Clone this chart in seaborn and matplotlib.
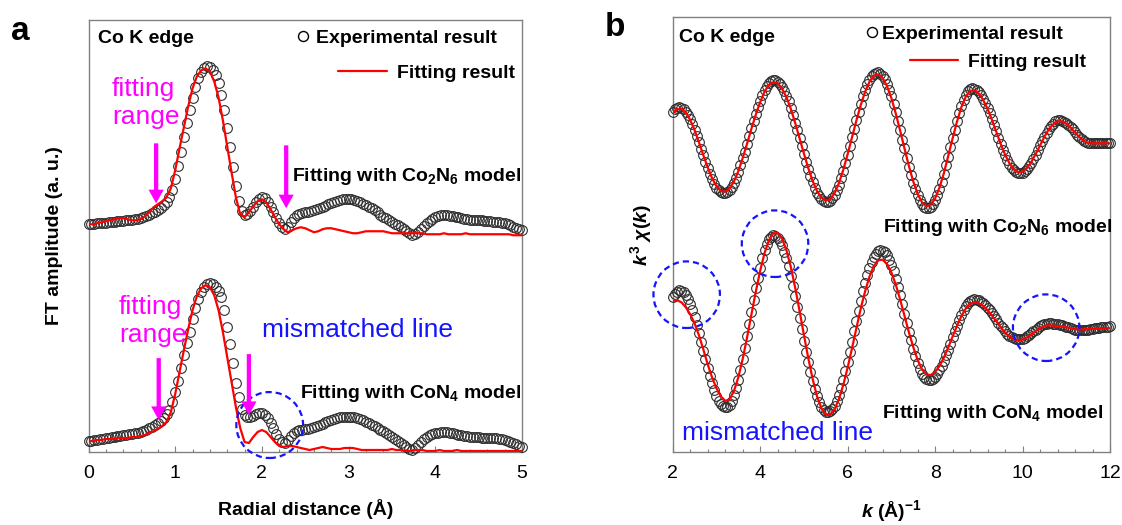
import numpy as np
import matplotlib
matplotlib.use("Agg")
import matplotlib.pyplot as plt
from matplotlib.lines import Line2D
from matplotlib.legend import Legend
from matplotlib.patches import Ellipse
from matplotlib.ticker import MultipleLocator
import seaborn as sns

# ---------------- data ----------------
# (a) Fourier-transformed EXAFS, R space
r_exp = np.arange(151) / 30.0
r_fit = np.arange(101) / 20.0

ft_exp_co2n6 = np.array([
    0.08, 0.08, 0.085, 0.09, 0.09, 0.09, 0.09, 0.10, 0.10, 0.10,
    0.11, 0.11, 0.11, 0.12, 0.12, 0.12, 0.13, 0.13, 0.14, 0.15,
    0.16, 0.17, 0.19, 0.20, 0.22, 0.24, 0.27, 0.30, 0.35, 0.42,
    0.53, 0.66, 0.80, 0.95, 1.09, 1.22, 1.34, 1.45, 1.54, 1.60,
    1.64, 1.66, 1.65, 1.62, 1.57, 1.49, 1.37, 1.22, 1.04, 0.85,
    0.65, 0.46, 0.31, 0.21, 0.17, 0.18, 0.21, 0.25, 0.30, 0.33,
    0.35, 0.34, 0.30, 0.25, 0.20, 0.14, 0.09, 0.05, 0.03, 0.05,
    0.10, 0.14, 0.17, 0.18, 0.19, 0.20, 0.20, 0.21, 0.22, 0.23,
    0.24, 0.25, 0.26, 0.28, 0.29, 0.30, 0.31, 0.32, 0.33, 0.33,
    0.33, 0.33, 0.32, 0.31, 0.30, 0.28, 0.27, 0.25, 0.24, 0.22,
    0.20, 0.17, 0.15, 0.14, 0.12, 0.10, 0.08, 0.07, 0.05, 0.03,
    0.01, -0.01, -0.03, -0.02, 0.00, 0.03, 0.06, 0.09, 0.11, 0.13,
    0.15, 0.16, 0.17, 0.17, 0.17, 0.16, 0.16, 0.15, 0.15, 0.14,
    0.13, 0.13, 0.12, 0.12, 0.12, 0.12, 0.12, 0.11, 0.11, 0.11,
    0.10, 0.10, 0.10, 0.09, 0.09, 0.08, 0.07, 0.05, 0.04, 0.03, 0.02,
])
ft_fit_co2n6 = np.array([
    0.08, 0.08, 0.09, 0.10, 0.11, 0.12, 0.13, 0.14, 0.14, 0.13,
    0.12, 0.12, 0.13, 0.16, 0.20, 0.25, 0.28, 0.31, 0.35, 0.44,
    0.62, 0.84, 1.05, 1.26, 1.44, 1.56, 1.62, 1.64, 1.61, 1.51,
    1.35, 1.12, 0.86, 0.60, 0.35, 0.18, 0.15, 0.20, 0.26, 0.31,
    0.33, 0.30, 0.23, 0.15, 0.08, 0.03, 0.00, 0.02, 0.04, 0.05,
    0.04, 0.02, 0.00, 0.01, 0.03, 0.04, 0.04, 0.03, 0.02, 0.01,
    0.00, -0.01, -0.01, 0.00, 0.01, 0.01, 0.01, 0.01, 0.01, 0.00,
    -0.01, -0.01, -0.01, -0.01, -0.01, -0.01, -0.01, -0.01, -0.02, -0.02,
    -0.02, -0.02, -0.01, -0.02, -0.02, -0.02, -0.02, -0.01, -0.02, -0.02,
    -0.02, -0.02, -0.02, -0.02, -0.02, -0.02, -0.02, -0.02, -0.03, -0.03, -0.03,
])
ft_exp_con4 = np.array([
    0.11, 0.115, 0.12, 0.12, 0.13, 0.13, 0.14, 0.14, 0.15, 0.15,
    0.16, 0.16, 0.17, 0.17, 0.18, 0.18, 0.19, 0.19, 0.20, 0.21,
    0.22, 0.24, 0.25, 0.27, 0.29, 0.31, 0.34, 0.38, 0.42, 0.50,
    0.60, 0.71, 0.84, 0.97, 1.09, 1.20, 1.33, 1.44, 1.53, 1.60,
    1.65, 1.68, 1.69, 1.68, 1.65, 1.61, 1.55, 1.42, 1.25, 1.08,
    0.89, 0.69, 0.55, 0.43, 0.37, 0.35, 0.35, 0.36, 0.38, 0.39,
    0.39, 0.37, 0.34, 0.29, 0.24, 0.18, 0.13, 0.10, 0.09, 0.12,
    0.16, 0.19, 0.21, 0.22, 0.22, 0.23, 0.23, 0.24, 0.25, 0.26,
    0.27, 0.28, 0.30, 0.31, 0.32, 0.33, 0.34, 0.35, 0.35, 0.35,
    0.35, 0.35, 0.35, 0.34, 0.33, 0.32, 0.30, 0.29, 0.27, 0.26,
    0.24, 0.22, 0.21, 0.19, 0.17, 0.15, 0.13, 0.11, 0.09, 0.07,
    0.05, 0.03, 0.02, 0.04, 0.07, 0.10, 0.13, 0.15, 0.17, 0.18,
    0.19, 0.19, 0.20, 0.20, 0.20, 0.19, 0.19, 0.18, 0.17, 0.17,
    0.16, 0.16, 0.15, 0.15, 0.15, 0.15, 0.14, 0.14, 0.14, 0.14,
    0.14, 0.14, 0.13, 0.13, 0.12, 0.11, 0.10, 0.09, 0.08, 0.06, 0.05,
])
ft_fit_con4 = np.array([
    0.11, 0.11, 0.12, 0.12, 0.13, 0.13, 0.13, 0.14, 0.14, 0.14,
    0.15, 0.15, 0.16, 0.17, 0.19, 0.21, 0.23, 0.26, 0.30, 0.40,
    0.58, 0.80, 1.02, 1.23, 1.42, 1.56, 1.64, 1.67, 1.65, 1.57,
    1.42, 1.20, 0.95, 0.70, 0.45, 0.24, 0.10, 0.09, 0.15, 0.20,
    0.22, 0.20, 0.15, 0.10, 0.06, 0.05, 0.06, 0.06, 0.05, 0.04,
    0.03, 0.02, 0.03, 0.04, 0.05, 0.04, 0.03, 0.03, 0.03, 0.04,
    0.04, 0.04, 0.03, 0.02, 0.02, 0.02, 0.02, 0.02, 0.02, 0.02,
    0.03, 0.02, 0.02, 0.01, 0.01, 0.02, 0.02, 0.02, 0.01, 0.01,
    0.01, 0.02, 0.01, 0.01, 0.01, 0.02, 0.01, 0.01, 0.01, 0.01,
    0.01, 0.01, 0.01, 0.01, 0.01, 0.01, 0.01, 0.01, 0.01, 0.01, 0.01,
])

# (b) k^3-weighted EXAFS oscillations, k space
k_exp = np.round(2 + np.arange(201) * 0.05, 3)
k_fit = np.round(2 + np.arange(101) * 0.1, 3)

chi_exp_co2n6 = np.array([
    1.55, 1.72, 1.79, 1.80, 1.77, 1.70, 1.58, 1.41, 1.20, 0.95,
    0.67, 0.37, 0.05, -0.28, -0.61, -0.94, -1.24, -1.53, -1.80, -2.02,
    -2.21, -2.35, -2.45, -2.50, -2.49, -2.43, -2.32, -2.16, -1.96, -1.72,
    -1.44, -1.11, -0.76, -0.41, -0.02, 0.36, 0.75, 1.12, 1.47, 1.81,
    2.12, 2.42, 2.66, 2.85, 3.00, 3.10, 3.15, 3.14, 3.08, 2.98,
    2.82, 2.61, 2.37, 2.09, 1.77, 1.42, 1.04, 0.65, 0.26, -0.14,
    -0.53, -0.92, -1.28, -1.63, -1.94, -2.22, -2.46, -2.65, -2.80, -2.90,
    -2.95, -2.94, -2.88, -2.75, -2.57, -2.34, -2.06, -1.74, -1.37, -0.97,
    -0.57, -0.14, 0.30, 0.74, 1.17, 1.57, 1.97, 2.34, 2.66, 2.94,
    3.17, 3.35, 3.48, 3.54, 3.55, 3.49, 3.37, 3.19, 2.95, 2.67,
    2.34, 1.96, 1.55, 1.11, 0.66, 0.19, -0.26, -0.73, -1.17, -1.58,
    -1.96, -2.30, -2.60, -2.85, -3.04, -3.17, -3.24, -3.24, -3.18, -3.05,
    -2.85, -2.60, -2.29, -1.93, -1.55, -1.11, -0.66, -0.20, 0.25, 0.68,
    1.11, 1.50, 1.86, 2.16, 2.40, 2.59, 2.70, 2.75, 2.73, 2.68,
    2.57, 2.43, 2.24, 2.03, 1.77, 1.50, 1.22, 0.91, 0.59, 0.29,
    -0.03, -0.32, -0.58, -0.81, -1.03, -1.21, -1.35, -1.44, -1.49, -1.50,
    -1.46, -1.39, -1.28, -1.14, -0.97, -0.78, -0.56, -0.33, -0.11, 0.12,
    0.34, 0.54, 0.72, 0.87, 0.98, 1.09, 1.14, 1.15, 1.13, 1.08,
    1.01, 0.92, 0.81, 0.69, 0.56, 0.44, 0.32, 0.21, 0.12, 0.06,
    0.01, 0.00, 0.00, -0.01, -0.01, 0.00, 0.00, 0.00, 0.00, 0.00,
    0.00,
])
chi_fit_co2n6 = np.array([
    1.50, 1.72, 1.72, 1.54, 1.17, 0.66, 0.05, -0.59, -1.20, -1.74,
    -2.14, -2.38, -2.42, -2.26, -1.91, -1.40, -0.74, -0.02, 0.73, 1.43,
    2.06, 2.58, 2.92, 3.06, 3.00, 2.74, 2.31, 1.73, 1.02, 0.26,
    -0.51, -1.24, -1.88, -2.39, -2.72, -2.86, -2.80, -2.50, -2.00, -1.33,
    -0.55, 0.29, 1.14, 1.91, 2.58, 3.08, 3.38, 3.45, 3.27, 2.86,
    2.27, 1.50, 0.64, -0.25, -1.13, -1.90, -2.52, -2.95, -3.14, -3.08,
    -2.76, -2.22, -1.50, -0.64, 0.24, 1.08, 1.80, 2.33, 2.62, 2.65,
    2.49, 2.17, 1.72, 1.18, 0.57, -0.03, -0.56, -1.00, -1.31, -1.45,
    -1.42, -1.24, -0.94, -0.54, -0.11, 0.33, 0.70, 0.95, 1.10, 1.10,
    0.98, 0.79, 0.54, 0.31, 0.12, 0.01, 0.00, 0.00, 0.00, 0.00,
    0.00,
])
chi_exp_con4 = np.array([
    1.50, 1.68, 1.79, 1.85, 1.84, 1.77, 1.63, 1.43, 1.17, 0.87,
    0.52, 0.13, -0.29, -0.73, -1.17, -1.60, -2.03, -2.43, -2.80, -3.14,
    -3.44, -3.66, -3.84, -3.95, -4.00, -3.97, -3.86, -3.66, -3.38, -3.03,
    -2.61, -2.14, -1.60, -1.03, -0.44, 0.18, 0.79, 1.39, 1.96, 2.49,
    2.98, 3.46, 3.85, 4.16, 4.39, 4.54, 4.60, 4.58, 4.48, 4.32,
    4.09, 3.79, 3.45, 3.05, 2.59, 2.09, 1.57, 1.02, 0.45, -0.10,
    -0.67, -1.22, -1.75, -2.24, -2.69, -3.09, -3.44, -3.74, -3.97, -4.13,
    -4.23, -4.25, -4.20, -4.09, -3.91, -3.67, -3.37, -3.03, -2.63, -2.20,
    -1.72, -1.23, -0.72, -0.20, 0.32, 0.83, 1.33, 1.80, 2.24, 2.64,
    2.97, 3.27, 3.51, 3.69, 3.80, 3.85, 3.83, 3.74, 3.59, 3.38,
    3.12, 2.80, 2.44, 2.04, 1.60, 1.16, 0.69, 0.23, -0.23, -0.65,
    -1.06, -1.42, -1.79, -2.08, -2.32, -2.49, -2.60, -2.65, -2.64, -2.58,
    -2.47, -2.32, -2.14, -1.92, -1.67, -1.40, -1.11, -0.81, -0.50, -0.20,
    0.09, 0.37, 0.62, 0.85, 1.05, 1.20, 1.31, 1.38, 1.40, 1.39,
    1.35, 1.29, 1.21, 1.11, 0.99, 0.85, 0.71, 0.56, 0.40, 0.24,
    0.09, -0.05, -0.19, -0.31, -0.41, -0.49, -0.55, -0.59, -0.60, -0.59,
    -0.56, -0.51, -0.45, -0.37, -0.29, -0.20, -0.11, -0.03, 0.05, 0.11,
    0.16, 0.19, 0.20, 0.20, 0.19, 0.18, 0.16, 0.13, 0.10, 0.07,
    0.03, 0.00, -0.05, -0.09, -0.12, -0.14, -0.15, -0.15, -0.14, -0.13,
    -0.11, -0.09, -0.07, -0.05, -0.03, -0.01, 0.01, 0.02, 0.03, 0.04,
    0.05,
])
chi_fit_con4 = np.array([
    1.30, 1.35, 1.25, 1.00, 0.65, 0.20, -0.40, -1.10, -1.85, -2.50,
    -3.05, -3.45, -3.68, -3.60, -3.19, -2.51, -1.59, -0.51, 0.64, 1.78,
    2.83, 3.71, 4.35, 4.69, 4.72, 4.44, 3.86, 3.03, 1.99, 0.83,
    -0.37, -1.54, -2.58, -3.45, -4.04, -4.36, -4.37, -4.11, -3.60, -2.89,
    -2.02, -1.05, -0.05, 0.94, 1.80, 2.54, 3.07, 3.35, 3.38, 3.17,
    2.75, 2.14, 1.40, 0.58, -0.24, -0.98, -1.63, -2.10, -2.36, -2.39,
    -2.24, -1.94, -1.52, -1.01, -0.47, 0.07, 0.55, 0.93, 1.17, 1.25,
    1.20, 1.07, 0.86, 0.59, 0.30, 0.01, -0.26, -0.47, -0.60, -0.65,
    -0.61, -0.51, -0.36, -0.19, -0.04, 0.06, 0.10, 0.09, 0.06, 0.03,
    0.00, -0.05, -0.08, -0.10, -0.10, -0.09, -0.08, -0.07, -0.06, -0.05,
    -0.05,
])

# vertical stacking of the two models inside each panel
FT_OFFSET = {"co2n6": 2.2, "con4": 0.0}
CHI_OFFSET = {"co2n6": 15.45, "con4": 6.25}

# ---------------- style ----------------
sns.set_theme(style="white")
plt.rcParams["font.family"] = ["Liberation Sans", "DejaVu Sans"]
plt.rcParams.update({
    "text.color": "black",
    "axes.labelcolor": "black",
    "mathtext.fontset": "custom",
    "mathtext.rm": "Liberation Sans:bold",
    "mathtext.it": "Liberation Sans:italic:bold",
    "mathtext.bf": "Liberation Sans:bold",
})

MAGENTA = "#ff00ff"
BLUE = "#1414ff"
RED = "#ff0000"
CIRCLE_EDGE = "#2e2e2e"
SPINE = "#808080"

EXP_KW = dict(marker="o", linestyle="", markersize=7.0, markerfacecolor="none",
              markeredgecolor=CIRCLE_EDGE, markeredgewidth=0.8,
              clip_on=False, zorder=3)
FIT_KW = dict(color=RED, linewidth=1.6, zorder=4)
BOLD14 = dict(fontsize=14, fontweight="bold", color="black")

fig = plt.figure(figsize=(11.22, 5.25), dpi=100)
ax_a = fig.add_axes([88.5 / 1122, 73 / 525, 433.5 / 1122, 432.5 / 525])
ax_b = fig.add_axes([672.7 / 1122, 72.7 / 525, 437.3 / 1122, 435.6 / 525])


def draw_pair(ax, x_e, y_e, x_f, y_f, offset):
    sns.lineplot(x=x_e, y=y_e + offset, ax=ax, estimator=None, sort=False, **EXP_KW)
    sns.lineplot(x=x_f, y=y_f + offset, ax=ax, estimator=None, sort=False, **FIT_KW)


def down_arrow(ax, x, y_from, y_to):
    ax.annotate("", xy=(x, y_to), xytext=(x, y_from), zorder=6,
                arrowprops=dict(arrowstyle="simple,head_length=0.7,head_width=0.78,tail_width=0.22",
                                fc=MAGENTA, ec=MAGENTA, lw=0, shrinkA=0, shrinkB=0,
                                mutation_scale=14))


def ring(ax, cx, cy, w, h):
    ax.add_patch(Ellipse((cx, cy), w, h, fill=False, edgecolor=BLUE, linewidth=1.6,
                         linestyle=(0, (2.8, 1.8)), zorder=5, clip_on=False))


def legend_row(ax, handle, label, anchor, handlelength, handletextpad):
    leg = Legend(ax, [handle], [label], loc="center left", bbox_to_anchor=anchor,
                 frameon=False, borderpad=0, borderaxespad=0,
                 handlelength=handlelength, handletextpad=handletextpad,
                 labelcolor="black",
                 prop=dict(family="Liberation Sans", weight="bold", size=14))
    ax.add_artist(leg)


exp_handle = Line2D([], [], marker="o", linestyle="", markersize=7.2,
                    markerfacecolor="none", markeredgecolor="black", markeredgewidth=1.0)
fit_handle = Line2D([], [], color=RED, linewidth=1.6)

# ---------------- panel a ----------------
draw_pair(ax_a, r_exp, ft_exp_co2n6, r_fit, ft_fit_co2n6, FT_OFFSET["co2n6"])
draw_pair(ax_a, r_exp, ft_exp_con4, r_fit, ft_fit_con4, FT_OFFSET["con4"])
ax_a.set_xlim(0, 5)
ax_a.set_ylim(0, 4.33)
ax_a.xaxis.set_major_locator(MultipleLocator(1))
ax_a.xaxis.set_minor_locator(MultipleLocator(0.2))

down_arrow(ax_a, 0.78, 3.09, 2.49)
down_arrow(ax_a, 2.28, 3.07, 2.44)
down_arrow(ax_a, 0.81, 0.94, 0.32)
down_arrow(ax_a, 1.85, 0.98, 0.37)
ring(ax_a, 2.09, 0.27, 0.77, 0.66)

ax_a.text(0.022, 0.955, "Co K edge", transform=ax_a.transAxes, ha="left", va="center", **BOLD14)
ax_a.text(0.054, 0.807, "fitting\nrange", transform=ax_a.transAxes, ha="left", va="center",
          fontsize=19, color=MAGENTA, linespacing=1.2)
ax_a.text(0.070, 0.303, "fitting\nrange", transform=ax_a.transAxes, ha="left", va="center",
          fontsize=19, color=MAGENTA, linespacing=1.2)
ax_a.text(0.998, 0.638, "Fitting with Co$_2$N$_6$ model", transform=ax_a.transAxes,
          ha="right", va="center", **BOLD14)
ax_a.text(0.998, 0.136, "Fitting with CoN$_4$ model", transform=ax_a.transAxes,
          ha="right", va="center", **BOLD14)
ax_a.text(0.40, 0.282, "mismatched line", transform=ax_a.transAxes, ha="left", va="center",
          fontsize=19, color=BLUE)
legend_row(ax_a, exp_handle, "Experimental result", (0.478, 0.9566), 0.7, 0.33)
legend_row(ax_a, fit_handle, "Fitting result", (0.5755, 0.876), 2.52, 0.51)

ax_a.set_xlabel("Radial distance (Å)", **BOLD14)
ax_a.xaxis.set_label_coords(0.5, -0.109)
ax_a.set_ylabel("FT amplitude (a. u.)", **BOLD14)
ax_a.yaxis.set_label_coords(-0.078, 0.5)
ax_a.yaxis.label.set_va("center")

# ---------------- panel b ----------------
draw_pair(ax_b, k_exp, chi_exp_co2n6, k_fit, chi_fit_co2n6, CHI_OFFSET["co2n6"])
draw_pair(ax_b, k_exp, chi_exp_con4, k_fit, chi_fit_con4, CHI_OFFSET["con4"])
ax_b.set_xlim(2, 12)
ax_b.set_ylim(0, 21.78)
ax_b.xaxis.set_major_locator(MultipleLocator(2))
ax_b.xaxis.set_minor_locator(MultipleLocator(0.4))

ring(ax_b, 2.32, 7.88, 1.52, 3.33)
ring(ax_b, 4.34, 10.43, 1.52, 3.33)
ring(ax_b, 10.54, 6.23, 1.52, 3.33)

ax_b.text(0.0144, 0.953, "Co K edge", transform=ax_b.transAxes, ha="left", va="center", **BOLD14)
ax_b.text(1.005, 0.517, "Fitting with Co$_2$N$_6$ model", transform=ax_b.transAxes,
          ha="right", va="center", **BOLD14)
ax_b.text(0.984, 0.0896, "Fitting with CoN$_4$ model", transform=ax_b.transAxes,
          ha="right", va="center", **BOLD14)
ax_b.text(0.021, 0.0436, "mismatched line", transform=ax_b.transAxes, ha="left", va="center",
          fontsize=19, color=BLUE)
legend_row(ax_b, exp_handle, "Experimental result", (0.4395, 0.960), 0.7, 0.16)
legend_row(ax_b, fit_handle, "Fitting result", (0.5427, 0.896), 2.47, 0.51)

ax_b.set_xlabel(r"$k$ (Å)$^{-1}$", **BOLD14)
ax_b.xaxis.set_label_coords(0.5, -0.105)
ax_b.set_ylabel(r"$k^{3}\ \chi(k)$", **BOLD14)
ax_b.yaxis.set_label_coords(-0.0725, 0.5)
ax_b.yaxis.label.set_va("center")

# ---------------- shared axis cosmetics ----------------
for ax in (ax_a, ax_b):
    for sp in ax.spines.values():
        sp.set_visible(True)
        sp.set_color(SPINE)
        sp.set_linewidth(1.0)
    ax.tick_params(axis="x", which="both", direction="in", bottom=True, top=False,
                   color=SPINE, labelcolor="black", labelsize=14, pad=9)
    ax.tick_params(axis="x", which="major", length=4.5, width=0.8)
    ax.tick_params(axis="x", which="minor", length=2.5, width=0.8)
    ax.tick_params(axis="y", which="both", left=False, labelleft=False)
    ax.grid(False)

fig.text(20 / 1122, 1 - 31 / 525, "a", fontsize=24, fontweight="bold", ha="center", va="center",
         color="black")
fig.text(615 / 1122, 1 - 27 / 525, "b", fontsize=24, fontweight="bold", ha="center", va="center",
         color="black")

fig.savefig("out.png", dpi=100)
